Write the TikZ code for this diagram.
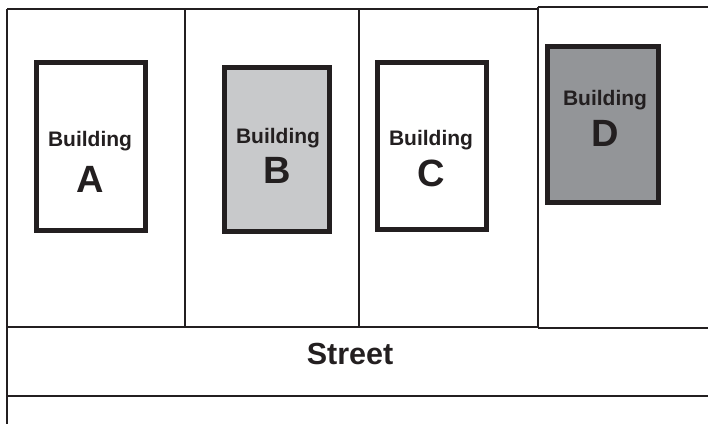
\documentclass[tikz,border=0pt]{standalone}
\usepackage{fontspec}
\setmainfont{Liberation Sans}
\definecolor{ink}{HTML}{231F20}
\definecolor{lightgray}{HTML}{C8C9CB}
\definecolor{midgray}{HTML}{939598}
\begin{document}
\begin{tikzpicture}[x=1pt,y=-1pt,
  lotline/.style={draw=ink,line width=2.2pt},
  bldg/.style={draw=ink,line width=5pt,rectangle,inner sep=0pt},
  bword/.style={anchor=base,font=\fontsize{21}{21}\selectfont\bfseries,text=ink,inner sep=0pt},
  bletter/.style={anchor=base,font=\fontsize{38}{38}\selectfont\bfseries,text=ink,inner sep=0pt}]
\useasboundingbox (0,0) rectangle (708,424);
% lot lines
\coordinate (tl) at (7,9);
\coordinate (bl) at (7,424);
\coordinate (t1) at (185,9);
\coordinate (t2) at (359,9);
\coordinate (t3) at (538,9);
\coordinate (t3b) at (538,7);
\coordinate (tr) at (708,7);
\coordinate (m0) at (7,327);
\coordinate (m1) at (185,327);
\coordinate (m2) at (359,327);
\coordinate (m3) at (538,327);
\coordinate (m3b) at (538,328);
\coordinate (mr) at (708,328);
\coordinate (s0) at (7,396);
\coordinate (sr) at (708,396);
\draw[lotline] (tl) -- (bl);
\draw[lotline] (tl) -- (t3);
\draw[lotline] (t3b) -- (tr);
\draw[lotline] (t1) -- (m1);
\draw[lotline] (t2) -- (m2);
\draw[lotline] (t3b) -- (m3b);
\draw[lotline] (m0) -- (m3);
\draw[lotline] (m3b) -- (mr);
\draw[lotline] (s0) -- (sr);
% buildings
\node[bldg,fill=white] (bA) at (90.5,146) [minimum width=109pt,minimum height=168pt] {};
\node[bldg,fill=lightgray] (bB) at (276.5,149) [minimum width=105pt,minimum height=164pt] {};
\node[bldg,fill=white] (bC) at (431.5,145.5) [minimum width=109pt,minimum height=167pt] {};
\node[bldg,fill=midgray] (bD) at (602.5,124) [minimum width=111pt,minimum height=156pt] {};
% labels
\node[bword] (wA) at (90,146) {Building};
\node[bletter] (lA) at (90,192) {A};
\node[bword] (wB) at (278,143) {Building};
\node[bletter] (lB) at (277,183) {B};
\node[bword] (wC) at (431,145) {Building};
\node[bletter] (lC) at (431,186) {C};
\node[bword] (wD) at (605,105) {Building};
\node[bletter] (lD) at (605,146) {D};
\node[anchor=base,font=\fontsize{30.5}{30.5}\selectfont\bfseries,text=ink,inner sep=0pt] (street) at (350,364) {Street};
\end{tikzpicture}
\end{document}
